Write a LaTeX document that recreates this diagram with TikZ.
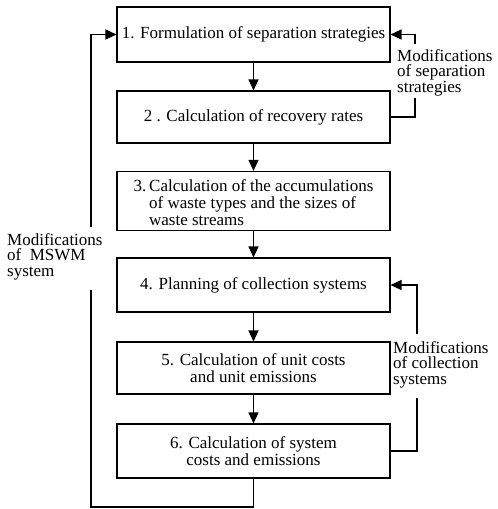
\documentclass[tikz,border=0pt]{standalone}
\usepackage{fontspec}
\setmainfont{Liberation Serif}
\usetikzlibrary{arrows.meta}
\begin{document}
\begin{tikzpicture}[x=1pt,y=-1pt,
  box/.style={draw, line width=1.1pt, minimum width=273pt, inner sep=0pt,
    font=\fontsize{17}{17}\selectfont, align=center},
  lbl/.style={anchor=north west, inner sep=0pt, align=left,
    font=\fontsize{17}{15.5}\selectfont},
  conn/.style={line width=1.3pt},
  arr/.style={conn, -{Triangle[length=11pt,width=10pt]}}]
\useasboundingbox (0,0) rectangle (498,509);
\node[box, minimum height=55pt] (b1) at (253.5,34.5) {1. Formulation of separation strategies};
\node[box, minimum height=52pt] (b2) at (253.5,117) {2 . Calculation of recovery rates};
\node[box, minimum height=54pt] (b3) at (253.5,201) {\begin{tabular}{@{}l@{\,}l@{}}\rule{0pt}{20pt}3. & Calculation of the accumulations\\ & of waste types and the sizes of\\ & waste streams\end{tabular}};
\node[box, minimum height=54pt] (b4) at (253.5,285) {4. Planning of collection systems};
\node[box, minimum height=52pt] (b5) at (253.5,368) {5. Calculation of unit costs\\and unit emissions};
\node[box, minimum height=54pt] (b6) at (253.5,451) {6. Calculation of system\\costs and emissions};
\draw[arr] (b1) -- (b2);
\draw[arr] (b2) -- (b3);
\draw[arr] (b3) -- (b4);
\draw[arr] (b4) -- (b5);
\draw[arr] (b5) -- (b6);
% right loop 1
\coordinate (ra) at (415,44);
\coordinate (rb) at (415,98);
\draw[conn] (b2.east) -| (rb);
\draw[arr] (ra) |- (b1.east);
% right loop 2
\coordinate (rc) at (417,334);
\coordinate (rd) at (417,398);
\draw[conn] (b6.east) -| (rd);
\draw[arr] (rc) |- (b4.east);
% left loop
\coordinate (la) at (91,227);
\coordinate (lb) at (91,290);
\coordinate (bot) at (91,507);
\draw[conn] (b6.south) |- (bot) -- (lb);
\draw[arr] (la) |- (b1.west);
% labels
\node[lbl] (m1) at (397,49) {Modifications\\of separation\\strategies};
\node[lbl] (m2) at (393,341) {Modifications\\of collection\\systems};
\node[lbl] (m3) at (7,233) {Modifications\\of\ \ MSWM\\system};
\end{tikzpicture}
\end{document}
